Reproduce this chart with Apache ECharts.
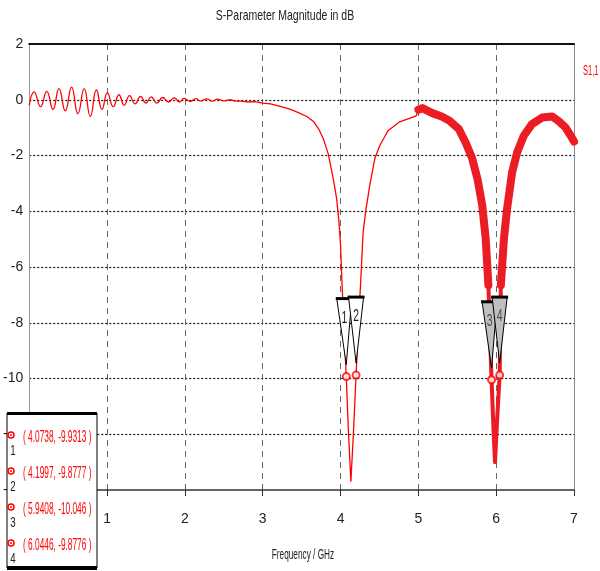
<!DOCTYPE html>
<html>
<head>
<meta charset="utf-8">
<title>S-Parameter Magnitude in dB</title>
<script src="https://cdn.jsdelivr.net/npm/echarts/dist/echarts.min.js"></script>
<style>
    html, body { margin: 0; padding: 0; background: #fff; }
    #main { width: 600px; height: 571px; }
</style>
</head>
<body>
<div id="main"></div>
<script>
// S1,1 trace [GHz, dB]
// ripple at the low end, 0 .. 2.7 GHz
var s11Ripple = [
    [0, -0.2], [0.063, 0.28], [0.145, -0.25], [0.225, 0.3], [0.305, -0.35], [0.382, 0.4],
    [0.463, -0.4], [0.544, 0.45], [0.625, -0.5], [0.706, 0.4], [0.785, -0.6], [0.863, 0.35],
    [0.935, -0.35], [1.004, 0.25], [1.08, -0.25], [1.153, 0.18], [1.22, -0.2], [1.289, 0.15],
    [1.36, -0.15], [1.43, 0.12], [1.5, -0.12], [1.566, 0.1], [1.64, -0.12], [1.715, 0.08],
    [1.79, -0.08], [1.863, 0.07], [1.93, -0.08], [1.99, 0.05], [2.07, -0.06], [2.14, 0.04],
    [2.2, -0.05], [2.28, 0.03], [2.35, -0.05], [2.42, 0.02], [2.5, -0.04], [2.58, 0.0],
    [2.65, -0.05], [2.72, -0.05]
];
// first resonance, 2.7 .. 5 GHz
var s11Thin = [
    [2.72, -0.05], [2.8, -0.08], [2.9, -0.07], [3.0, -0.12], [3.1, -0.15],
    [3.2, -0.22], [3.35, -0.34], [3.45, -0.45], [3.567, -0.6], [3.652, -0.78], [3.72, -1.05],
    [3.78, -1.41], [3.843, -1.95], [3.907, -2.84], [3.95, -3.55], [3.98, -4.38], [4.0, -5.2],
    [4.02, -6.65], [4.05, -8.5], [4.0738, -9.93], [4.10, -11.8], [4.133, -13.7], [4.165, -12.0],
    [4.1997, -9.88], [4.23, -8.0], [4.257, -6.65], [4.29, -4.76], [4.325, -3.97], [4.375, -3.08],
    [4.44, -2.12], [4.503, -1.65], [4.61, -1.11], [4.76, -0.79], [4.886, -0.67], [4.97, -0.58],
    [5.0, -0.4]
];

// thick band part 5 .. 7 GHz
var s11BandLeft = [
    [5.0, -0.36], [5.05, -0.3], [5.18, -0.48], [5.3, -0.6], [5.4, -0.75], [5.52, -1.05],
    [5.61, -1.55], [5.69, -2.09], [5.76, -2.84], [5.82, -3.77], [5.865, -4.97], [5.9, -6.65]
];
var s11Dip = [
    [5.89, -6.2], [5.9, -6.65], [5.92, -8.4], [5.9408, -10.05], [5.965, -11.8], [5.985, -13.0],
    [6.01, -11.6], [6.0446, -9.88], [6.06, -6.65], [6.07, -6.1]
];
var s11BandRight = [
    [6.06, -6.65], [6.1, -4.98], [6.14, -3.91], [6.205, -2.6], [6.27, -1.88], [6.355, -1.29],
    [6.46, -0.875], [6.59, -0.64], [6.72, -0.6], [6.8, -0.76], [6.89, -0.99], [6.97, -1.35],
    [7.0, -1.5]
];

var markerFreq = [4.0738, 4.1997, 5.9408, 6.0446];
var markerDb = [-9.9313, -9.8777, -10.046, -9.8776];
var markerLabels = ['1', '2', '3', '4'];
var markerText = ['( 4.0738, -9.9313 )', '( 4.1997, -9.8777 )', '( 5.9408, -10.046 )', '( 6.0446, -9.8776 )'];

var fontName = '"Liberation Sans", Arial, sans-serif';
var redThin = '#ff0000';
var redBand = '#ec1c24';

var markerData = [];
for (var i = 0; i < markerFreq.length; i++) {
    markerData.push([markerFreq[i], markerDb[i]]);
}

// marker triangles above the curve
function renderMarker(params, api) {
    var p = api.coord([api.value(0), api.value(1)]);
    var idx = params.dataIndex;
    var dx = (idx % 2 == 0) ? -2 : 0;
    var x = p[0] + dx;
    var top = p[1] - 78;
    var tipY = p[1] - 12;
    var hw = 7.5;
    var fill = idx < 2 ? '#ffffff' : '#c0c0c0';
    return {
        type: 'group',
        children: [
            {
                type: 'polygon',
                shape: { points: [[x - hw, top], [x + hw, top], [p[0], tipY]] },
                style: { fill: fill, stroke: '#000', lineWidth: 1 }
            },
            {
                type: 'line',
                shape: { x1: x - hw - 1, y1: top, x2: x + hw + 1, y2: top },
                style: { stroke: '#000', lineWidth: 3 }
            },
            {
                type: 'text',
                x: x,
                y: top + 20,
                scaleX: 0.65,
                style: {
                    text: markerLabels[idx],
                    fill: idx < 2 ? '#1a1a3a' : '#5a4a3a',
                    font: '16px ' + fontName,
                    align: 'center',
                    verticalAlign: 'middle'
                }
            }
        ]
    };
}

// legend box in the lower left corner
var legendItems = [
    { type: 'rect', z: 100, shape: { x: 7, y: 413, width: 90, height: 155 }, style: { fill: '#fff', stroke: '#000', lineWidth: 1 } },
    { type: 'rect', z: 101, shape: { x: 7, y: 412, width: 90, height: 3 }, style: { fill: '#000' } },
    { type: 'rect', z: 101, shape: { x: 7, y: 566, width: 90, height: 4 }, style: { fill: '#000' } }
];
var rowY = [438, 474, 510, 546];
for (var r = 0; r < rowY.length; r++) {
    legendItems.push({ type: 'circle', z: 101, shape: { cx: 11, cy: rowY[r] - 3, r: 3 }, style: { fill: 'none', stroke: redThin, lineWidth: 1.5 } });
    legendItems.push({ type: 'circle', z: 101, shape: { cx: 11, cy: rowY[r] - 3, r: 1 }, style: { fill: redThin } });
    legendItems.push({ type: 'text', z: 101, x: 13, y: rowY[r] + 13, scaleX: 0.65, style: { text: markerLabels[r], fill: '#222', font: '15px ' + fontName, align: 'center', verticalAlign: 'middle' } });
    legendItems.push({ type: 'text', z: 101, x: 23, y: rowY[r], scaleX: 0.52, style: { text: markerText[r], fill: redThin, font: '16px ' + fontName, align: 'left', verticalAlign: 'middle' } });
}

var option = {
    backgroundColor: '#fff',
    animation: false,
    grid: { left: 28, right: 26, top: 44, bottom: 81 },
    xAxis: [
        {
            type: 'value',
            min: 0,
            max: 7,
            interval: 1,
            axisLine: { onZero: false, lineStyle: { color: '#333', width: 1.5 } },
            axisTick: { show: true, length: 6, lineStyle: { color: '#333' } },
            axisLabel: { margin: 22, fontFamily: fontName, fontSize: 14, color: '#222' },
            splitLine: { show: true, showMinLine: false, showMaxLine: false, lineStyle: { color: '#666', type: [6, 5], width: 1 } }
        },
        {
            type: 'value',
            position: 'top',
            min: 0,
            max: 7,
            axisLine: { show: true, onZero: false, lineStyle: { color: '#111', width: 2 } },
            axisTick: { show: false },
            axisLabel: { show: false },
            splitLine: { show: false }
        }
    ],
    yAxis: [
        {
            type: 'value',
            min: -14,
            max: 2,
            interval: 2,
            axisLine: { show: true, onZero: false, lineStyle: { color: '#999', width: 1 } },
            axisTick: { show: false },
            axisLabel: { margin: 6, fontFamily: fontName, fontSize: 14, color: '#222' },
            splitLine: { show: true, showMinLine: false, showMaxLine: false, lineStyle: { color: '#111', type: [2, 2], width: 1.2 } }
        },
        {
            type: 'value',
            position: 'right',
            min: -14,
            max: 2,
            axisLine: { show: true, onZero: false, lineStyle: { color: '#888', width: 1 } },
            axisTick: { show: false },
            axisLabel: { show: false },
            splitLine: { show: false }
        }
    ],
    graphic: [
        {
            type: 'text',
            x: 285,
            y: 16,
            scaleX: 0.7,
            z: 10,
            style: { text: 'S-Parameter Magnitude in dB', fill: '#222', font: '15px ' + fontName, align: 'center', verticalAlign: 'middle' }
        },
        {
            type: 'text',
            x: 303,
            y: 555,
            scaleX: 0.55,
            z: 10,
            style: { text: 'Frequency / GHz', fill: '#222', font: '15px ' + fontName, align: 'center', verticalAlign: 'middle' }
        },
        {
            type: 'text',
            x: 583,
            y: 71,
            scaleX: 0.5,
            z: 10,
            style: { text: 'S1,1', fill: redThin, font: '15px ' + fontName, align: 'left', verticalAlign: 'middle' }
        },
        {
            type: 'group',
            z: 100,
            children: legendItems
        }
    ],
    series: [
        {
            name: 'S1,1',
            type: 'line',
            showSymbol: false,
            smooth: 0.5,
            data: s11Ripple,
            lineStyle: { color: redThin, width: 1.3 },
            z: 3
        },
        {
            type: 'line',
            showSymbol: false,
            data: s11Thin,
            lineStyle: { color: redThin, width: 1.3 },
            z: 3
        },
        {
            type: 'line',
            showSymbol: false,
            data: s11BandLeft,
            lineStyle: { color: redBand, width: 8, join: 'round', cap: 'round' },
            z: 3
        },
        {
            type: 'line',
            showSymbol: false,
            data: s11Dip,
            lineStyle: { color: redBand, width: 4, join: 'round' },
            z: 3
        },
        {
            type: 'line',
            showSymbol: false,
            data: s11BandRight,
            lineStyle: { color: redBand, width: 8, join: 'round', cap: 'round' },
            z: 3
        },
        {
            type: 'custom',
            renderItem: renderMarker,
            data: markerData,
            encode: { x: 0, y: 1 },
            z: 5
        },
        {
            type: 'scatter',
            data: markerData,
            symbol: 'emptyCircle',
            symbolSize: 7,
            itemStyle: { color: redThin, borderWidth: 1.5 },
            z: 6
        }
    ]
};

var myChart = echarts.init(document.getElementById('main'));
myChart.setOption(option);
</script>
</body>
</html>
